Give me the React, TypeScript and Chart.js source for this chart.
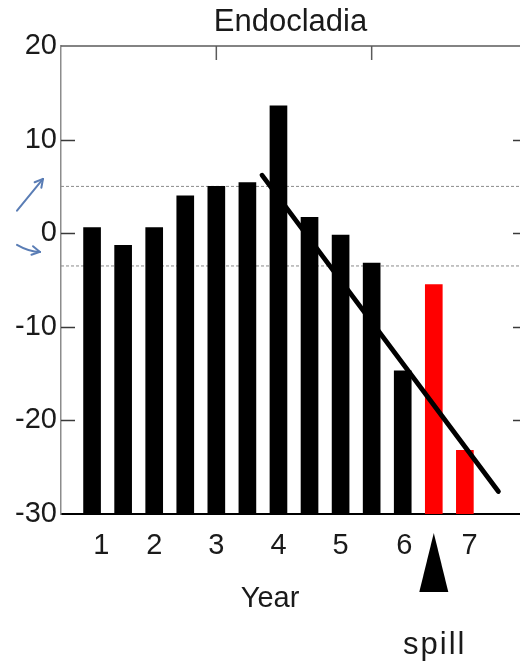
import React, { useEffect, useRef } from "react";
import { Chart, registerables } from "chart.js";

Chart.register(...registerables);

const FONT = '"Liberation Sans", Arial, Helvetica, sans-serif';

const chartTitle = "Endocladia";
const barPositions = [1, 2, 3, 4, 5, 6, 7, 8, 9, 10, 11, 12, 13];
const barValues = [0.6, -1.3, 0.6, 4.0, 5.0, 5.4, 13.6, 1.7, -0.2, -3.2, -14.7, -5.5, -23.2];
const spillBars = [12, 13];
const yearTickPositions = [1.3, 3, 5, 7, 9, 11.05, 13.15];
const yearTickLabels = ["1", "2", "3", "4", "5", "6", "7"];
const yTicks = [-30, -20, -10, 0, 10, 20];
const topTickPositions = [5, 10];
const refLevels = [5, -3.5];
const trendX = [6.47, 14.08];
const trendY = [6.2, -27.6];
const spillPosition = 12;
const yearLabelPosition = 6.73;
const xAxisTitle = "Year";
const spillLabel = "spill";
const xMin = 0;
const xMax = 14.775;
const frameRight = 15;
const yMin = -30;
const yMax = 20;

const decorPlugin = {
  id: "decor",
  afterDraw(chart: any) {
    const { ctx, chartArea, scales } = chart;
    const { left, right, top, bottom } = chartArea;
    const x = scales.x;
    const y = scales.y;
    const line = (x1: number, y1: number, x2: number, y2: number) => {
      ctx.beginPath();
      ctx.moveTo(x1, y1);
      ctx.lineTo(x2, y2);
      ctx.stroke();
    };
    ctx.save();
    // top frame
    ctx.strokeStyle = "#5a5a5a";
    ctx.lineWidth = 1.5;
    line(left, top, right, top);
    topTickPositions.forEach((v) => {
      const px = x.getPixelForValue(v);
      line(px, top, px, top + 14);
    });
    // inward ticks left and right
    ctx.strokeStyle = "#3a3a3a";
    const fr = x.getPixelForValue(frameRight);
    yTicks
      .filter((v) => v > yMin && v < yMax)
      .forEach((v) => {
        const py = Math.round(y.getPixelForValue(v)) + 0.5;
        line(left, py, left + 14, py);
        line(fr - 14, py, fr, py);
      });
    // spill triangle
    const sx = x.getPixelForValue(spillPosition);
    ctx.fillStyle = "#000";
    ctx.beginPath();
    ctx.moveTo(sx, bottom + 19);
    ctx.lineTo(sx + 14.5, bottom + 78);
    ctx.lineTo(sx - 14.5, bottom + 78);
    ctx.closePath();
    ctx.fill();
    // texts
    ctx.fillStyle = "#1a1a1a";
    ctx.font = `29px ${FONT}`;
    ctx.textAlign = "center";
    ctx.textBaseline = "alphabetic";
    ctx.fillText(xAxisTitle, x.getPixelForValue(yearLabelPosition), bottom + 93);
    ctx.font = `31px ${FONT}`;
    (ctx as any).letterSpacing = "2px";
    ctx.fillText(spillLabel, sx + 1, bottom + 140);
    (ctx as any).letterSpacing = "0px";
    // hand-drawn blue arrows
    ctx.strokeStyle = "#5a7db5";
    ctx.lineWidth = 2;
    ctx.lineCap = "round";
    const arrowHead = (tx: number, ty: number, ang: number) => {
      const L = 9;
      line(tx, ty, tx - L * Math.cos(ang - 0.5), ty - L * Math.sin(ang - 0.5));
      line(tx, ty, tx - L * Math.cos(ang + 0.5), ty - L * Math.sin(ang + 0.5));
    };
    const a1x1 = left - 44, a1y1 = y.getPixelForValue(2.4);
    const a1x2 = left - 18, a1y2 = y.getPixelForValue(5.8);
    line(a1x1, a1y1, a1x2, a1y2);
    arrowHead(a1x2, a1y2, Math.atan2(a1y2 - a1y1, a1x2 - a1x1));
    const a2x1 = left - 44, a2y1 = y.getPixelForValue(-1.25);
    const a2x2 = left - 21, a2y2 = y.getPixelForValue(-2.0);
    ctx.beginPath();
    ctx.moveTo(a2x1, a2y1);
    ctx.quadraticCurveTo(a2x1 + 12, a2y1 + 7, a2x2, a2y2);
    ctx.stroke();
    arrowHead(a2x2, a2y2, Math.atan2(a2y2 - (a2y1 + 5), a2x2 - (a2x1 + 12)));
    ctx.restore();
  },
};

export default function App() {
  const canvasRef = useRef<HTMLCanvasElement | null>(null);

  useEffect(() => {
    if (!canvasRef.current) return;
    const chart = new Chart(canvasRef.current, {
      type: "bar",
      data: {
        datasets: [
          {
            type: "bar",
            data: barPositions.map((p, i) => ({ x: p, y: barValues[i] })),
            backgroundColor: barPositions.map((p) => (spillBars.includes(p) ? "#ff0000" : "#000000")),
            base: yMin,
            barThickness: 17,
            borderWidth: 0,
            order: 2,
          } as any,
          {
            type: "line",
            data: trendX.map((p, i) => ({ x: p, y: trendY[i] })),
            borderColor: "#000000",
            borderWidth: 4.8,
            borderCapStyle: "round",
            pointRadius: 0,
            order: 0,
          } as any,
          ...refLevels.map(
            (v) =>
              ({
                type: "line",
                data: [
                  { x: xMin, y: v },
                  { x: xMax, y: v },
                ],
                borderColor: "#8a8a8a",
                borderWidth: 1,
                borderDash: [3, 2],
                pointRadius: 0,
                order: 3,
              } as any)
          ),
        ],
      },
      options: {
        animation: false,
        responsive: true,
        maintainAspectRatio: false,
        layout: { padding: 0 },
        plugins: {
          legend: { display: false },
          tooltip: { enabled: false },
          title: {
            display: true,
            text: chartTitle,
            fullSize: false,
            color: "#1a1a1a",
            font: { family: FONT, size: 31, weight: "normal", lineHeight: 1.2 },
            padding: { top: 4, bottom: 4.8 },
          },
        },
        scales: {
          x: {
            type: "linear",
            min: xMin,
            max: xMax,
            offset: false,
            grid: { display: false, drawTicks: false },
            border: { display: true, color: "#000000", width: 2 },
            afterBuildTicks: (s: any) => {
              s.ticks = yearTickPositions.map((v) => ({ value: v }));
            },
            afterFit: (s: any) => {
              s.height = 149;
            },
            ticks: {
              autoSkip: false,
              maxRotation: 0,
              padding: 15,
              color: "#1a1a1a",
              font: { family: FONT, size: 29 },
              callback: (_v: any, i: number) => yearTickLabels[i],
            },
          },
          y: {
            type: "linear",
            min: yMin,
            max: yMax,
            grid: { display: false, drawTicks: false },
            border: { display: true, color: "#8c8c8c", width: 1.5 },
            afterBuildTicks: (s: any) => {
              s.ticks = yTicks.map((v) => ({ value: v }));
            },
            afterFit: (s: any) => {
              s.width = 61;
            },
            ticks: {
              padding: 4,
              color: "#1a1a1a",
              font: { family: FONT, size: 29 },
              callback: (v: any) => String(v),
            },
          },
        },
      } as any,
      plugins: [decorPlugin],
    });
    return () => chart.destroy();
  }, []);

  return (
    <div style={{ position: "absolute", left: 0, top: 0, width: 520, height: 663, background: "#fff" }}>
      <canvas ref={canvasRef} />
    </div>
  );
}
